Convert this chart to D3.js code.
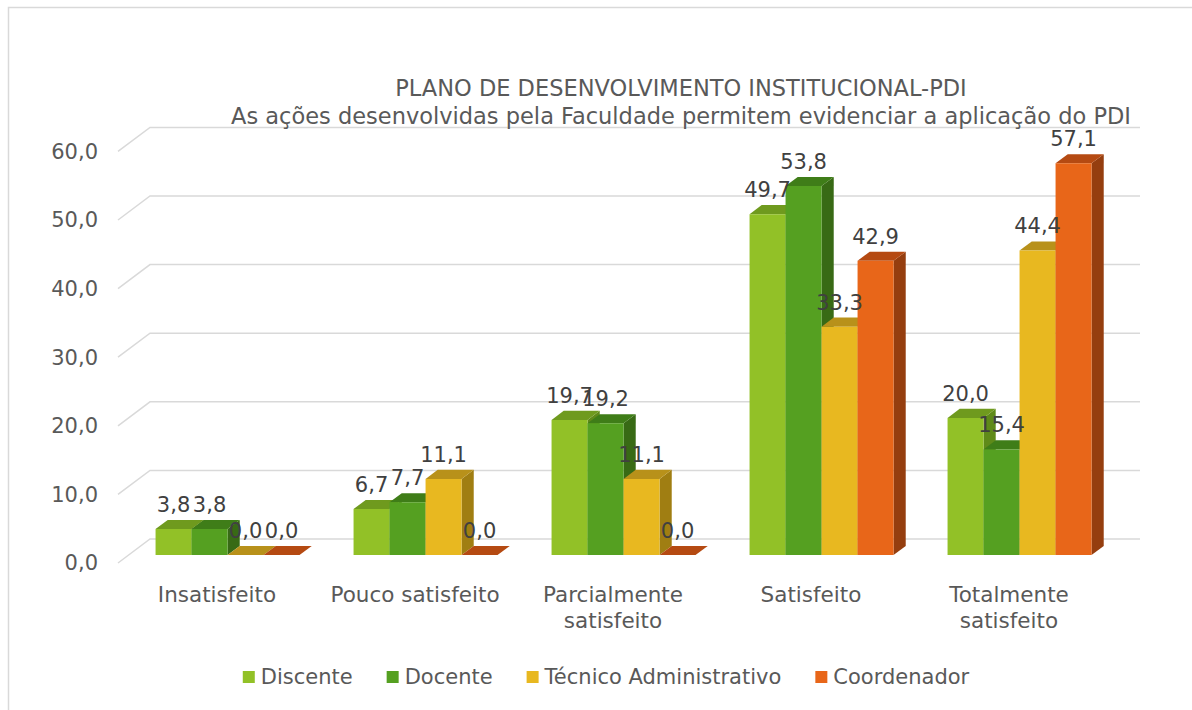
<!DOCTYPE html>
<html>
<head>
<meta charset="utf-8">
<script src="https://cdn.jsdelivr.net/npm/d3@7"></script>
<style>
  body { margin: 0; background: #fff; }
  text { font-family: "DejaVu Sans", sans-serif; }
</style>
</head>
<body>
<div class="chart"></div>
<script>
var categories = ["Insatisfeito", "Pouco satisfeito", "Parcialmente satisfeito", "Satisfeito", "Totalmente satisfeito"];
var categoryLines = [["Insatisfeito"], ["Pouco satisfeito"], ["Parcialmente", "satisfeito"], ["Satisfeito"], ["Totalmente", "satisfeito"]];
var series = ["Discente", "Docente", "Técnico Administrativo", "Coordenador"];
var discente = [3.8, 6.7, 19.7, 49.7, 20.0];
var docente = [3.8, 7.7, 19.2, 53.8, 15.4];
var tecnico = [0.0, 11.1, 11.1, 33.3, 44.4];
var coordenador = [0.0, 0.0, 0.0, 42.9, 57.1];
var yTicks = [0, 10, 20, 30, 40, 50, 60];
var titleLines = ["PLANO DE DESENVOLVIMENTO INSTITUCIONAL-PDI",
                  "As ações desenvolvidas pela Faculdade permitem evidenciar a aplicação do PDI"];

var values = [discente, docente, tecnico, coordenador];

// front, top, side colours per series
var colors = [
    { front: "#92c127", top: "#6f9a1e", side: "#5f8a19" },
    { front: "#55a021", top: "#3f7d18", side: "#386a15" },
    { front: "#e8b820", top: "#b8911a", side: "#a07e12" },
    { front: "#e86619", top: "#b54a12", side: "#953e0f" }
];

var svgWidth = 1192;
var svgHeight = 710;

var svg = d3.select(".chart")
    .append("svg")
    .attr("width", svgWidth)
    .attr("height", svgHeight);

// chart border
svg.append("rect")
    .attr("x", 8.5).attr("y", 7.5)
    .attr("width", 1300).attr("height", 800)
    .attr("fill", "none")
    .attr("stroke", "#d9d9d9")
    .attr("stroke-width", 1.5);

// depth of the 3d box
var depthX = 32, depthY = -24;
var barZ0 = 0.33, barZ1 = 0.71;

var xBand = d3.scaleBand()
    .domain(categories)
    .range([118, 1108])
    .paddingInner(0.2727)
    .paddingOuter(0.13636);

var xSeries = d3.scaleBand()
    .domain(series)
    .range([0, xBand.bandwidth()]);

var y = d3.scaleLinear()
    .domain([0, 60])
    .range([563, 151.4]);

function px(x, z) { return x + depthX * z; }
function py(v, z) { return y(v) + depthY * z; }

var fmt = function(v) { return d3.format(".1f")(v).replace(".", ","); };

// gridlines: left wall + back wall
var grid = svg.append("g");
yTicks.forEach(function(t) {
    grid.append("polyline")
        .attr("points", [
            [118, py(t, 0)],
            [px(118, 1), py(t, 1)],
            [px(1108, 1), py(t, 1)]
        ].map(p => p.join(",")).join(" "))
        .attr("fill", "none")
        .attr("stroke", "#d9d9d9")
        .attr("stroke-width", 1.5);
});

// y axis labels
svg.append("g").selectAll("text")
    .data(yTicks)
    .enter()
    .append("text")
    .attr("x", 98)
    .attr("y", d => y(d))
    .attr("dy", "0.35em")
    .attr("text-anchor", "end")
    .attr("font-size", 21)
    .attr("fill", "#595959")
    .text(d => fmt(d));

// bars
var bars = svg.append("g");
function poly(pts) { return pts.map(p => p.join(",")).join(" "); }

categories.forEach(function(c, ci) {
    series.forEach(function(s, si) {
        var v = values[si][ci];
        var x0 = xBand(c) + xSeries(s);
        var x1 = x0 + xSeries.bandwidth();
        var col = colors[si];
        // side face
        bars.append("polygon")
            .attr("points", poly([
                [px(x1, barZ0), py(0, barZ0)], [px(x1, barZ1), py(0, barZ1)],
                [px(x1, barZ1), py(v, barZ1)], [px(x1, barZ0), py(v, barZ0)]
            ]))
            .attr("fill", col.side);
        // top face
        bars.append("polygon")
            .attr("points", poly([
                [px(x0, barZ0), py(v, barZ0)], [px(x1, barZ0), py(v, barZ0)],
                [px(x1, barZ1), py(v, barZ1)], [px(x0, barZ1), py(v, barZ1)]
            ]))
            .attr("fill", col.top);
        // front face
        if (v > 0) {
            bars.append("polygon")
                .attr("points", poly([
                    [px(x0, barZ0), py(0, barZ0)], [px(x1, barZ0), py(0, barZ0)],
                    [px(x1, barZ0), py(v, barZ0)], [px(x0, barZ0), py(v, barZ0)]
                ]))
                .attr("fill", col.front);
        }
    });
});

// data labels
categories.forEach(function(c, ci) {
    series.forEach(function(s, si) {
        var v = values[si][ci];
        var xc = xBand(c) + xSeries(s) + xSeries.bandwidth() / 2;
        svg.append("text")
            .attr("x", px(xc, barZ0))
            .attr("y", py(v, barZ1) - 8)
            .attr("text-anchor", "middle")
            .attr("font-size", 21)
            .attr("fill", "#404040")
            .text(fmt(v));
    });
});

// category labels
categories.forEach(function(c, ci) {
    var t = svg.append("text")
        .attr("x", xBand(c) + xBand.bandwidth() / 2)
        .attr("y", 602)
        .attr("text-anchor", "middle")
        .attr("font-size", 21.5)
        .attr("fill", "#595959");
    categoryLines[ci].forEach(function(line, li) {
        t.append("tspan")
            .attr("x", xBand(c) + xBand.bandwidth() / 2)
            .attr("dy", li === 0 ? 0 : 26)
            .text(line);
    });
});

// title
titleLines.forEach(function(line, i) {
    svg.append("text")
        .attr("x", 681)
        .attr("y", 96 + i * 28)
        .attr("text-anchor", "middle")
        .attr("font-size", 22.5)
        .attr("fill", "#595959")
        .text(line);
});

// legend
var legend = svg.append("g");
var lx = 0;
series.forEach(function(s, si) {
    var g = legend.append("g").attr("transform", `translate(${lx},0)`);
    g.append("rect")
        .attr("x", 0).attr("y", -6)
        .attr("width", 12).attr("height", 12)
        .attr("fill", colors[si].front);
    var t = g.append("text")
        .attr("x", 18)
        .attr("y", 0)
        .attr("dy", "0.35em")
        .attr("font-size", 21)
        .attr("fill", "#595959")
        .text(s);
    lx += 18 + t.node().getComputedTextLength() + 34;
});
var legendW = lx - 34;
legend.attr("transform", `translate(${606 - legendW / 2},677)`);
</script>
</body>
</html>
